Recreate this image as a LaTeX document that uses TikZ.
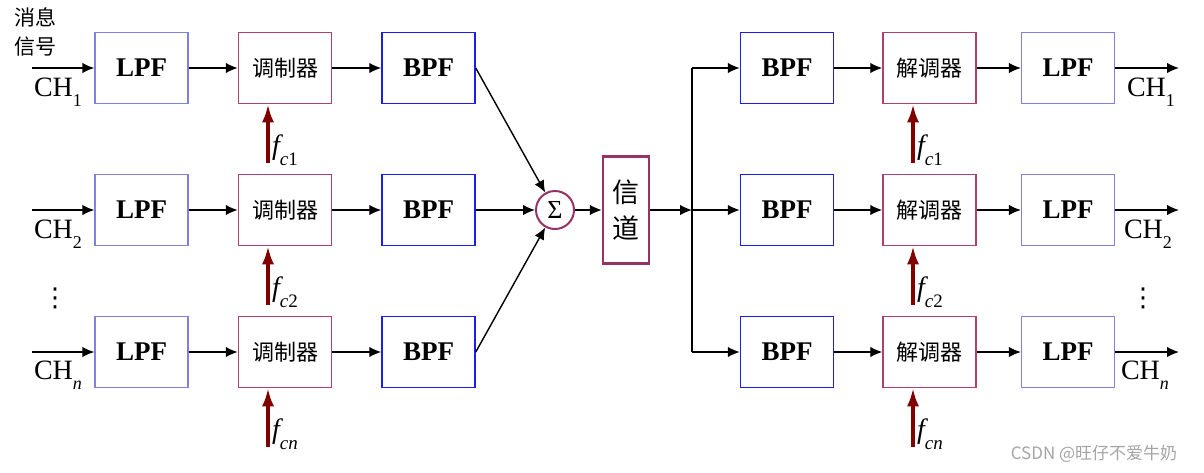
\documentclass[tikz,border=0pt]{standalone}
\usepackage{fontspec}
\setmainfont{Liberation Serif}
\newfontfamily\cjk{Noto Sans CJK SC}
\newfontfamily\dejavu{DejaVu Sans}
\usetikzlibrary{arrows.meta}
\definecolor{lpfc}{RGB}{128,128,224}
\definecolor{modc}{RGB}{176,64,112}
\definecolor{bpfc}{RGB}{30,30,235}
\definecolor{chc}{RGB}{150,50,100}
\definecolor{fcc}{RGB}{128,0,0}
\definecolor{wmc}{RGB}{165,165,165}
\newcommand{\chlab}[1]{CH\raisebox{-0.35em}{\fontsize{18}{18}\selectfont #1}}
\newcommand{\fclab}[1]{{\itshape f}\raisebox{-0.4em}{\fontsize{19}{19}\selectfont\itshape c\upshape #1}}
\begin{document}
\begin{tikzpicture}[x=1pt,y=-1pt,
  base/.style={minimum width=93pt, minimum height=71pt, inner sep=0pt, fill=white},
  lpf/.style={base, draw=lpfc, line width=1.3pt, font=\fontsize{27}{27}\selectfont\bfseries},
  bpf/.style={base, draw=bpfc, line width=1.5pt, font=\fontsize{27}{27}\selectfont\bfseries},
  modbox/.style={base, draw=modc, line width=1.5pt, font=\cjk\fontsize{22}{22}\selectfont},
  sumc/.style={circle, draw=chc, line width=2pt, minimum size=38pt, inner sep=0pt, font=\fontsize{26}{26}\selectfont},
  chbox/.style={draw=chc, line width=2.5pt, minimum width=46pt, minimum height=107pt, inner sep=0pt, align=center, font=\cjk\fontsize{27}{36}\selectfont},
  arr/.style={-{Latex[length=12pt,width=10.5pt]}, line width=1.4pt, black},
  fcarr/.style={-{Latex[length=18pt,width=12pt]}, line width=3.2pt, fcc},
  lab/.style={font=\fontsize{28}{28}\selectfont, inner sep=0pt},
  fclabst/.style={font=\fontsize{28}{28}\selectfont, inner sep=0pt, anchor=west},
  dotlab/.style={font=\dejavu\fontsize{26}{26}\selectfont, inner sep=0pt},
  cjklab/.style={font=\cjk\fontsize{21}{21}\selectfont, inner sep=0pt}]
\useasboundingbox (0,0) rectangle (1204,472);
\fill[white] (0,0) rectangle (1204,472);

% left side
\foreach \i/\y in {1/68,2/210,3/352}{
  \node[lpf] (lpf\i) at (141.5,\y) {LPF};
  \node[modbox] (mod\i) at (285,\y) {调制器};
  \node[bpf] (bpf\i) at (428.5,\y) {BPF};
  \coordinate (in\i) at (32,\y);
  \draw[arr] (in\i) -- (lpf\i.west);
  \draw[arr] (lpf\i.east) -- (mod\i.west);
  \draw[arr] (mod\i.east) -- (bpf\i.west);
}
\node[cjklab] (msg1) at (35,17) {消息};
\node[cjklab] (msg2) at (35,47) {信号};
\node[lab] (ch1) at (58,92) {\chlab{1}};
\node[lab] (ch2) at (58,234) {\chlab{2}};
\node[lab] (ch3) at (58,375) {\chlab{\itshape n}};
\node[dotlab] (ldots) at (55,298) {⋮};

% carriers
\foreach \i/\y in {1/163,2/305,3/447}{
  \coordinate (fcl\i) at (268,\y);
  \draw[fcarr] (fcl\i) -- (fcl\i |- mod\i.south);
  \coordinate (fcr\i) at (913,\y);
}
\node[fclabst] (fl1) at (272,150) {\fclab{1}};
\node[fclabst] (fl2) at (272,292) {\fclab{2}};
\node[fclabst] (fl3) at (272,434) {\fclab{\itshape n}};

% sum and channel
\node[sumc] (sum) at (555,210) {Σ};
\node[chbox] (chan) at (626,210) {信\\道};
\foreach \i in {1,2,3}{ \draw[arr] (bpf\i.east) -- (sum); }
\draw[arr] (sum.east) -- (chan.west);
\coordinate (J) at (692,210);
\draw[arr] (chan.east) -- (J);

% right side
\foreach \i/\y in {1/68,2/210,3/352}{
  \node[bpf] (rbpf\i) at (787,\y) {BPF};
  \node[modbox] (dem\i) at (929.5,\y) {解调器};
  \node[lpf] (rlpf\i) at (1068,\y) {LPF};
  \coordinate (j\i) at (692,\y);
  \coordinate (out\i) at (1179,\y);
  \draw[arr] (j\i) -- (rbpf\i.west);
  \draw[arr] (rbpf\i.east) -- (dem\i.west);
  \draw[arr] (dem\i.east) -- (rlpf\i.west);
  \draw[arr] (rlpf\i.east) -- (out\i);
}
\draw[line width=1.4pt] (j1) -- (j3);
\foreach \i in {1,2,3}{ \draw[fcarr] (fcr\i) -- (fcr\i |- dem\i.south); }
\node[fclabst] (fr1) at (917,150) {\fclab{1}};
\node[fclabst] (fr2) at (917,292) {\fclab{2}};
\node[fclabst] (fr3) at (917,434) {\fclab{\itshape n}};
\node[lab] (rch1) at (1151,92) {\chlab{1}};
\node[lab] (rch2) at (1148,234) {\chlab{2}};
\node[lab] (rch3) at (1145,375) {\chlab{\itshape n}};
\node[dotlab] (rdots) at (1143,298) {⋮};

\node[font=\cjk\fontsize{17}{17}\selectfont, text=wmc, inner sep=0pt] (wm) at (1094,454) {CSDN @旺仔不爱牛奶};
\end{tikzpicture}
\end{document}
